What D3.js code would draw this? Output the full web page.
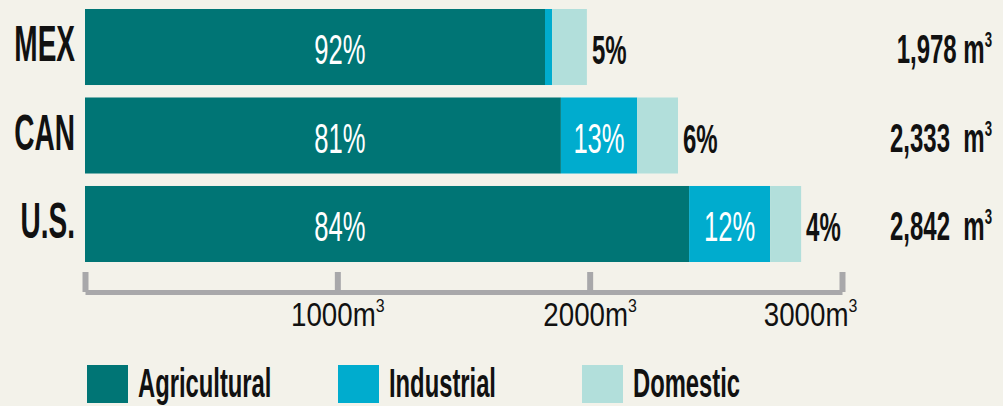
<!DOCTYPE html>
<html>
<head>
<meta charset="utf-8">
<script src="https://cdn.jsdelivr.net/npm/d3@7"></script>
<style>
  body { margin: 0; background: #f3f2ea; }
  svg { display: block; }
  text { font-family: "Liberation Sans", Arial, sans-serif; }
</style>
</head>
<body>
<div id="output"></div>
<script>
// Water withdrawal per capita, by sector
const countries = ["MEX", "CAN", "U.S."];
const agricultural = [1823, 1886, 2394];   // m3
const industrial = [28, 302, 321];
const domestic = [138, 162, 123];
const agriLabels = ["92%", "81%", "84%"];
const indLabels = ["", "13%", "12%"];
const domLabels = ["5%", "6%", "4%"];
const totalLabels = ["1,978 m", "2,333  m", "2,842  m"];
const axisTicks = [0, 1000, 2000, 3000];
const sectors = ["Agricultural", "Industrial", "Domestic"];
const colors = ["#007575", "#00acce", "#b2dfdb"];

const width = 1003, height = 406;

const svg = d3.select("#output").append("svg")
    .attr("width", width)
    .attr("height", height);

svg.append("rect")
    .attr("width", width)
    .attr("height", height)
    .attr("fill", "#f3f2ea");

const rows = countries.map((c, i) => ({
  country: c,
  Agricultural: agricultural[i],
  Industrial: industrial[i],
  Domestic: domestic[i]
}));

const x = d3.scaleLinear()
    .domain([0, 3000])
    .range([85, 842]);

const y = d3.scaleBand()
    .domain(countries)
    .range([9, 262])
    .paddingInner(0.141)
    .paddingOuter(0);

const color = d3.scaleOrdinal().domain(sectors).range(colors);

const stacked = d3.stack().keys(sectors)(rows);

// helper for squeezed text (the original face is a very condensed one)
function label(x0, y0, txt, opts) {
  const t = svg.append("text")
      .attr("transform", `translate(${x0},${y0}) scale(${opts.sx},1)`)
      .attr("text-anchor", opts.anchor || "start")
      .attr("font-size", opts.size)
      .attr("font-weight", opts.weight || "bold")
      .attr("fill", opts.fill || "#111")
      .style("white-space", "pre")
      .text(txt);
  return t;
}

// Bars
svg.selectAll(".layer")
  .data(stacked)
  .enter().append("g")
    .attr("class", "layer")
    .attr("fill", d => color(d.key))
  .selectAll("rect")
  .data(d => d)
  .enter().append("rect")
    .attr("x", d => x(d[0]))
    .attr("y", d => y(d.data.country))
    .attr("width", d => x(d[1]) - x(d[0]))
    .attr("height", y.bandwidth());

const mid = c => y(c) + y.bandwidth() / 2;

countries.forEach((c, i) => {
  // country name
  label(75, mid(c) + 14, c, { anchor: "end", size: 50, sx: 0.56 });

  // agricultural share, white
  label(x(1010), mid(c) + 17, agriLabels[i], { anchor: "middle", size: 42, weight: "normal", fill: "#fff", sx: 0.61 });

  // industrial share, white, centred on its segment
  if (indLabels[i]) {
    const s = stacked[1][i];
    label((x(s[0]) + x(s[1])) / 2, mid(c) + 17, indLabels[i], { anchor: "middle", size: 42, weight: "normal", fill: "#fff", sx: 0.61 });
  }

  // domestic share, right of the bar
  const end = stacked[2][i][1];
  label(x(end) + 5, mid(c) + 17, domLabels[i], { size: 40, sx: 0.6 });

  // total per capita
  const t = label(992, mid(c) + 16, totalLabels[i], { anchor: "end", size: 40, sx: 0.6 });
  t.append("tspan")
      .attr("font-size", 22)
      .attr("dy", -16)
      .text("3");
});

// Axis
const axis = svg.append("g")
    .attr("transform", "translate(0,292)")
    .call(d3.axisBottom(x)
      .tickValues(axisTicks)
      .tickSizeInner(-20)
      .tickSizeOuter(0)
      .tickPadding(11)
      .tickFormat(d => d ? d + "m" : ""));

axis.select(".domain")
    .attr("stroke", "#a8a8aa")
    .attr("stroke-width", 5);

axis.selectAll(".tick line")
    .attr("stroke", "#a8a8aa")
    .attr("stroke-width", 6);

axis.selectAll(".tick text")
    .attr("fill", "#111")
    .attr("font-size", 33)
    .attr("font-family", "'Liberation Sans', Arial, sans-serif")
    .attr("transform", "scale(0.84,1)")
    .attr("dx", d => d === 3000 ? -38 : 0) // last label sits left of its tick in the original
    .filter(d => d)
    .append("tspan")
      .attr("font-size", 19)
      .attr("dy", "-0.75em")
      .text("3");

// Legend
const legendX = [87, 338, 582];
sectors.forEach((s, i) => {
  svg.append("rect")
      .attr("x", legendX[i])
      .attr("y", 365)
      .attr("width", 41)
      .attr("height", 38)
      .attr("fill", color(s));
  label(legendX[i] + 51, 397, s, { size: 41, sx: 0.58 });
});
</script>
</body>
</html>
